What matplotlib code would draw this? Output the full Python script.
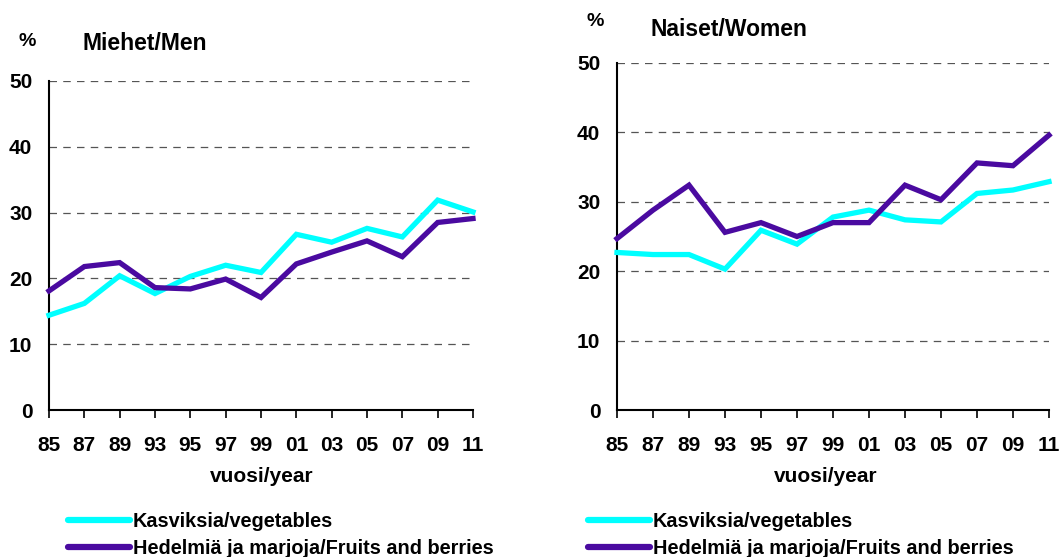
import matplotlib
matplotlib.use("Agg")
import matplotlib.pyplot as plt

plt.rcParams['font.family'] = ['Liberation Sans', 'DejaVu Sans']
plt.rcParams['font.weight'] = 'bold'

years = ["85", "87", "89", "93", "95", "97", "99", "01", "03", "05", "07", "09", "11"]
men_veg = [14.4, 16.2, 20.4, 17.7, 20.3, 22.0, 20.9, 26.7, 25.5, 27.6, 26.3, 31.9, 30.1]
men_fruit = [18.1, 21.8, 22.4, 18.6, 18.4, 19.9, 17.1, 22.2, 24.0, 25.7, 23.3, 28.5, 29.1]
women_veg = [22.7, 22.4, 22.4, 20.3, 25.9, 23.9, 27.8, 28.8, 27.4, 27.1, 31.2, 31.7, 32.9]
women_fruit = [24.7, 28.8, 32.4, 25.6, 27.0, 25.0, 27.0, 27.0, 32.4, 30.3, 35.6, 35.2, 39.6]
titles = ["Miehet/Men", "Naiset/Women"]
legend_labels = ["Kasviksia/vegetables", "Hedelmiä ja marjoja/Fruits and berries"]
xlabel = "vuosi/year"
yticks = [0, 10, 20, 30, 40, 50]

C_VEG = "#00FFFF"
C_FRUIT = "#4A0AA0"

W, H = 1064, 557
fig = plt.figure(figsize=(W / 100, H / 100), dpi=100)

def fx(px):
    return px / W

def fy(py):
    return 1 - py / H

panels = [
    dict(left=49, right=473, top=81, bottom=410, veg=men_veg, fruit=men_fruit,
         title=titles[0], title_xy=(82, 44), pct_xy=(27, 42),
         xlab_x=262, leg_x=68),
    dict(left=617, right=1049, top=63, bottom=410, veg=women_veg, fruit=women_fruit,
         title=titles[1], title_xy=(650, 30), pct_xy=(595, 22),
         xlab_x=826, leg_x=588),
]

for p in panels:
    ax = fig.add_axes([fx(p['left']), fy(p['bottom']),
                       fx(p['right'] - p['left']), (p['bottom'] - p['top']) / H])
    x = list(range(len(years)))
    l1, = ax.plot(x, p['veg'], color=C_VEG, lw=3.8, solid_joinstyle='miter', zorder=3)
    l2, = ax.plot(x, p['fruit'], color=C_FRUIT, lw=3.8, solid_joinstyle='miter', zorder=4)
    ax.set_xlim(0, len(years) - 1)
    ax.set_ylim(0, 50)
    ax.set_yticks(yticks)
    ax.set_yticklabels([str(v) for v in yticks], fontsize=15, fontweight='bold')
    for v in yticks[1:]:
        ax.axhline(v, color='#555555', lw=0.9, ls=(0, (6, 5)), zorder=1)
    ax.tick_params(axis='y', length=0, pad=12)
    ax.set_xticks(x)
    ax.set_xticklabels(years, fontsize=15, fontweight='bold')
    ax.tick_params(axis='x', direction='out', length=6, width=1.2, pad=13)
    for s in ['top', 'right']:
        ax.spines[s].set_visible(False)
    for s in ['left', 'bottom']:
        ax.spines[s].set_linewidth(1.5)
        ax.spines[s].set_color('black')
    l1.set_clip_on(False)
    l2.set_clip_on(False)

    fig.text(fx(p['title_xy'][0]), fy(p['title_xy'][1]), p['title'], fontsize=16.5,
             fontweight='bold', va='center', ha='left')
    fig.text(fx(p['pct_xy'][0]), fy(p['pct_xy'][1]), "%", fontsize=14,
             fontweight='bold', va='center', ha='center')
    fig.text(fx(p['xlab_x']), fy(477), xlabel, fontsize=15, fontweight='bold',
             va='center', ha='center')
    leg = fig.legend([l1, l2], legend_labels, loc='upper left',
                     bbox_to_anchor=(fx(p['leg_x']), fy(512)), frameon=False,
                     prop=dict(size=14.3, weight='bold'), handlelength=3.1,
                     handletextpad=0.15, labelspacing=0.42, borderaxespad=0,
                     borderpad=0)
    for h in leg.get_lines():
        h.set_linewidth(4.5)
        h.set_solid_capstyle('round')

fig.savefig("out.png", dpi=100)
